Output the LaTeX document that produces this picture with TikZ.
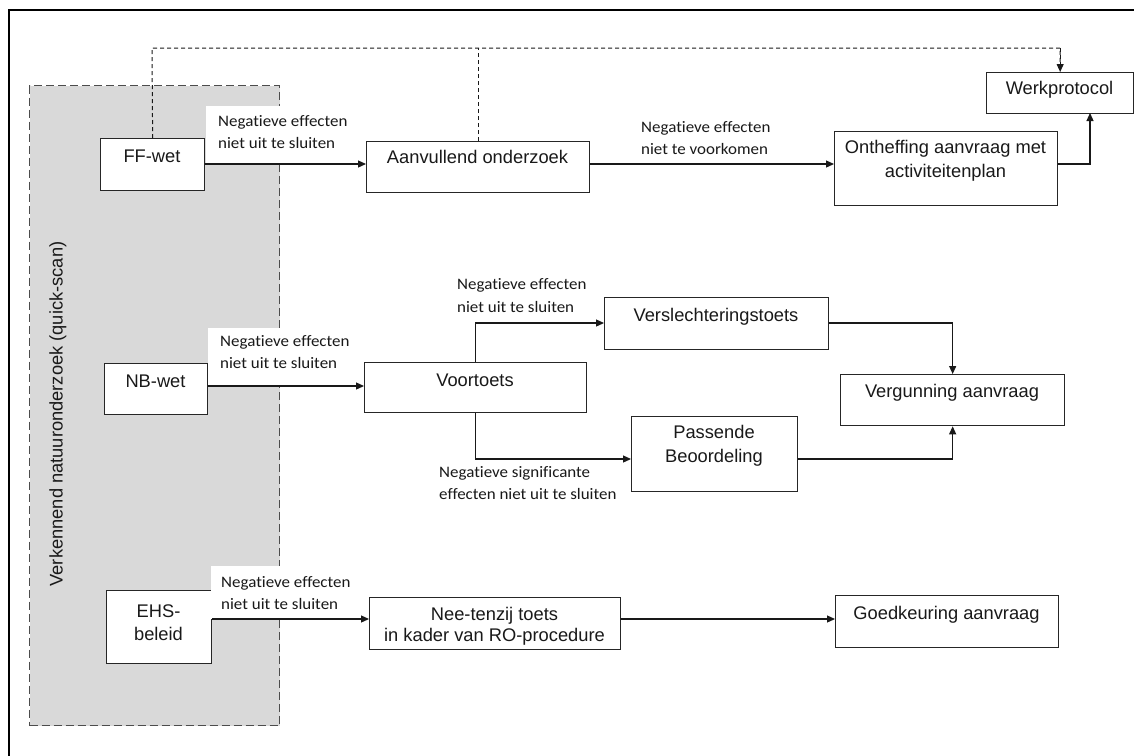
\documentclass[tikz,border=0pt]{standalone}
\usepackage{fontspec}
\setmainfont{Liberation Sans}
\newfontfamily\labfont[FakeStretch=1.06,Ligatures={NoCommon,NoRare,NoDiscretionary}]{Carlito}
\usetikzlibrary{arrows.meta}
\begin{document}
\begin{tikzpicture}[x=1pt,y=-1pt,
  box/.style={draw=black!85,line width=1.3pt,fill=white,inner sep=0pt,anchor=north west},
  btext/.style={inner sep=0pt,anchor=base,font=\fontsize{18.3}{21}\selectfont,text=black!90},
  ltext/.style={inner sep=0pt,anchor=base west,font=\labfont\fontsize{16}{19}\selectfont,text=black!90},
  wlab/.style={fill=white,draw=none,inner sep=0pt,anchor=north west},
  arr/.style={line width=1.2pt,draw=black!90,-{Triangle[length=8pt,width=7pt]}},
  ln/.style={line width=1.2pt,draw=black!90},
  dsh/.style={line width=1pt,draw=black!90,dash pattern=on 4pt off 3pt},
  greybox/.style={fill=black!15,draw=black!70,line width=1.2pt,dash pattern=on 8pt off 4pt,inner sep=0pt,anchor=north west},
  frame/.style={line width=2.5pt,draw=black}]
\useasboundingbox (0,0) rectangle (1134,755);
\fill[white] (0,0) rectangle (1134,755);
\draw[frame] (9,760) -- (9,10) -- (1140,10);

% grey quick-scan area
\node[greybox,minimum width=250pt,minimum height=640pt] (grey) at (29,85) {};
\node[inner sep=0pt,rotate=90,font=\fontsize{18.3}{21}\selectfont,text=black!90] (vtext) at (58,414) {Verkennend natuuronderzoek (quick-scan)};

% ---------- row 1 ----------
\node[box,minimum width=104pt,minimum height=52pt] (ff) at (100,138) {};
\node[btext] (ffT) at (152,162) {FF-wet};
\node[box,minimum width=223pt,minimum height=51pt] (aan) at (366,141) {};
\node[btext] (aanT) at (477.5,163) {Aanvullend onderzoek};
\node[box,minimum width=223pt,minimum height=74pt] (onth) at (834,131) {};
\node[btext] (onthT1) at (945.5,153) {Ontheffing aanvraag met};
\node[btext] (onthT2) at (945.5,177) {activiteitenplan};
\node[box,minimum width=147pt,minimum height=41pt] (werk) at (986,72) {};
\node[btext] (werkT) at (1059.5,94) {Werkprotocol};

\node[wlab,minimum width=150pt,minimum height=57pt] (lab1) at (206,106) {};
\node[ltext] (lab1a) at (218,126) {Negatieve effecten};
\node[ltext] (lab1b) at (218,148) {niet uit te sluiten};
\node[ltext] (lab2a) at (641,132) {Negatieve effecten};
\node[ltext] (lab2b) at (641,154) {niet te voorkomen};

\coordinate (dtop) at (152,48);
\draw[dsh] (ff.north) -- (dtop) -| (werk.north);
\draw[dsh,-{Triangle[length=8pt,width=7pt]}] (dtop -| werk.north) -- (werk.north);
\draw[dsh] (aan.north) -- (aan.north |- dtop);
\coordinate (r1) at (0,164);
\draw[arr] (ff.east |- r1) -- (aan.west |- r1);
\draw[arr] (aan.east |- r1) -- (onth.west |- r1);
\coordinate (wk) at (1090,113);
\draw[arr] (onth.east |- r1) -| (wk);

% ---------- row 2 ----------
\node[box,minimum width=103pt,minimum height=51pt] (nb) at (104,363) {};
\node[btext] (nbT) at (155.5,387) {NB-wet};
\node[box,minimum width=222pt,minimum height=50pt] (voor) at (364,362) {};
\node[btext] (voorT) at (475,386) {Voortoets};
\node[box,minimum width=224pt,minimum height=52pt] (vers) at (604,297) {};
\node[btext] (versT) at (716,321) {Verslechteringstoets};
\node[box,minimum width=166pt,minimum height=75pt] (pas) at (631,416) {};
\node[btext] (pasT1) at (714,438) {Passende};
\node[btext] (pasT2) at (714,462) {Beoordeling};
\node[box,minimum width=224pt,minimum height=51pt] (verg) at (840,374) {};
\node[btext] (vergT) at (952,397) {Vergunning aanvraag};

\node[wlab,minimum width=150pt,minimum height=58pt] (lab3) at (208,328) {};
\node[ltext] (lab3a) at (220,346) {Negatieve effecten};
\node[ltext] (lab3b) at (220,368) {niet uit te sluiten};
\node[ltext] (lab4a) at (457,289) {Negatieve effecten};
\node[ltext] (lab4b) at (457,312) {niet uit te sluiten};
\node[ltext] (lab5a) at (439,477) {Negatieve significante};
\node[ltext] (lab5b) at (439,499) {effecten niet uit te sluiten};

\coordinate (r2) at (0,386);
\coordinate (r2a) at (0,323);
\coordinate (r2b) at (0,459);
\draw[arr] (nb.east |- r2) -- (voor.west |- r2);
\draw[arr] (voor.north) |- (vers.west |- r2a);
\draw[arr] (voor.south) |- (pas.west |- r2b);
\draw[arr] (vers.east |- r2a) -| (verg.north);
\draw[arr] (pas.east |- r2b) -| (verg.south);

% ---------- row 3 ----------
\node[box,minimum width=105pt,minimum height=73pt] (ehs) at (106,590) {};
\node[btext] (ehsT1) at (158.5,617) {EHS-};
\node[btext] (ehsT2) at (158.5,640) {beleid};
\node[box,minimum width=251pt,minimum height=52pt] (nee) at (369,597) {};
\node[btext] (neeT1) at (494.5,620) {Nee-tenzij toets};
\node[btext] (neeT2) at (494.5,641) {in kader van RO-procedure};
\node[box,minimum width=223pt,minimum height=52pt] (goed) at (835,595) {};
\node[btext] (goedT) at (946.5,619) {Goedkeuring aanvraag};

\node[wlab,minimum width=150pt,minimum height=53pt] (lab6) at (211,566) {};
\node[ltext] (lab6a) at (221,587) {Negatieve effecten};
\node[ltext] (lab6b) at (221,609) {niet uit te sluiten};

\coordinate (r3) at (0,619);
\draw[arr] (ehs.east |- r3) -- (nee.west |- r3);
\draw[arr] (nee.east |- r3) -- (goed.west |- r3);
\end{tikzpicture}
\end{document}
